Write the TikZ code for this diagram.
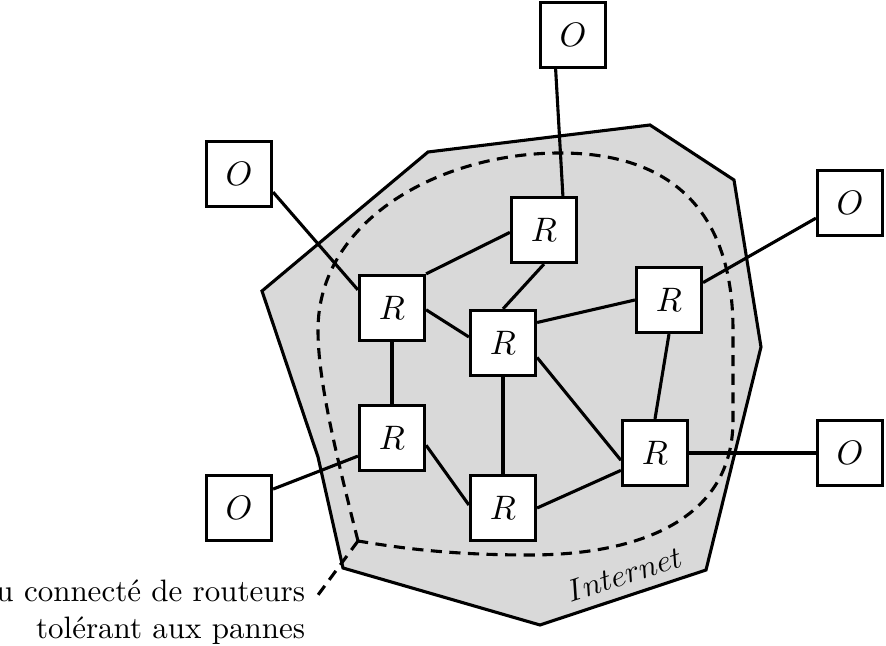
\documentclass[tikz,border=0pt]{standalone}
\usepackage{fontspec}
\usepackage{tikz}
\usetikzlibrary{calc}

\begin{document}
\begin{tikzpicture}[x=0.3226pt, y=-0.3226pt,
  box/.style={draw, fill=white, line width=1pt, minimum size=21pt, inner sep=0pt,
    font=\fontsize{11}{13}\selectfont},
  link/.style={line width=1pt},
  dashline/.style={line width=1pt, dash pattern=on 3.6pt off 2.4pt}]
\useasboundingbox (0,0) rectangle (886,646);

% internet
\draw [line width=1pt, fill=black!15] (262,291) -- (428,152) -- (650,125) -- (734,180)
  -- (761,347) -- (706,570) -- (540,625) -- (343,568) -- (318,457) -- cycle;
\node [rotate=18] (inet) at (624,574) {$Internet$};

% sous-reseau
\coordinate (sr) at (358,541);
\draw [dashline] (sr) .. controls (335,450) and (318,380) .. (318,330)
  .. controls (318,220) and (440,153) .. (560,153)
  .. controls (680,153) and (733,220) .. (733,330)
  -- (733,420)
  .. controls (733,530) and (620,555) .. (530,555)
  .. controls (450,555) and (400,548) .. (sr);

\node [align=right, anchor=east] (lbl) at (316,612) {Réseau connecté de routeurs\\tolérant aux pannes};
\draw [dashline] (sr) -- (lbl.4);

\node [box] (ot) at (573,35) {$O$};
\node [box] (olt) at (239,174) {$O$};
\node [box] (ort) at (850,203) {$O$};
\node [box] (orb) at (850,453) {$O$};
\node [box] (olb) at (239,508) {$O$};

\node [box] (rt) at (544,230) {$R$};
\node [box] (rl) at (392,308) {$R$};
\node [box] (rc) at (503,343) {$R$};
\node [box] (rr) at (669,300) {$R$};
\node [box] (rlb) at (392,438) {$R$};
\node [box] (rb) at (503,508) {$R$};
\node [box] (rrb) at (655,453) {$R$};

\draw [link] (ot.-117) -- (rt.61);
\draw [link] (olt.-28) -- (rl.152);
\draw [link] (ort.204) -- (rr.27);
\draw [link] (orb) -- (rrb);
\draw [link] (olb.29) -- (rlb.208);

\draw [link] (rl.north east) -- (rt.184);
\draw [link] (rl.-3) -- (rc.170);
\draw [link] (rl) -- (rlb);
\draw [link] (rt.south) -- (rc.north);
\draw [link] (rc.31) -- (rr.west);
\draw [link] (rc) -- (rb);
\draw [link] (rc.-23) -- (rrb.192);
\draw [link] (rlb.-12) -- (rb.175);
\draw [link] (rb.east) -- (rrb.207);
\draw [link] (rr.south) -- (rrb.north);

\end{tikzpicture}
\end{document}
